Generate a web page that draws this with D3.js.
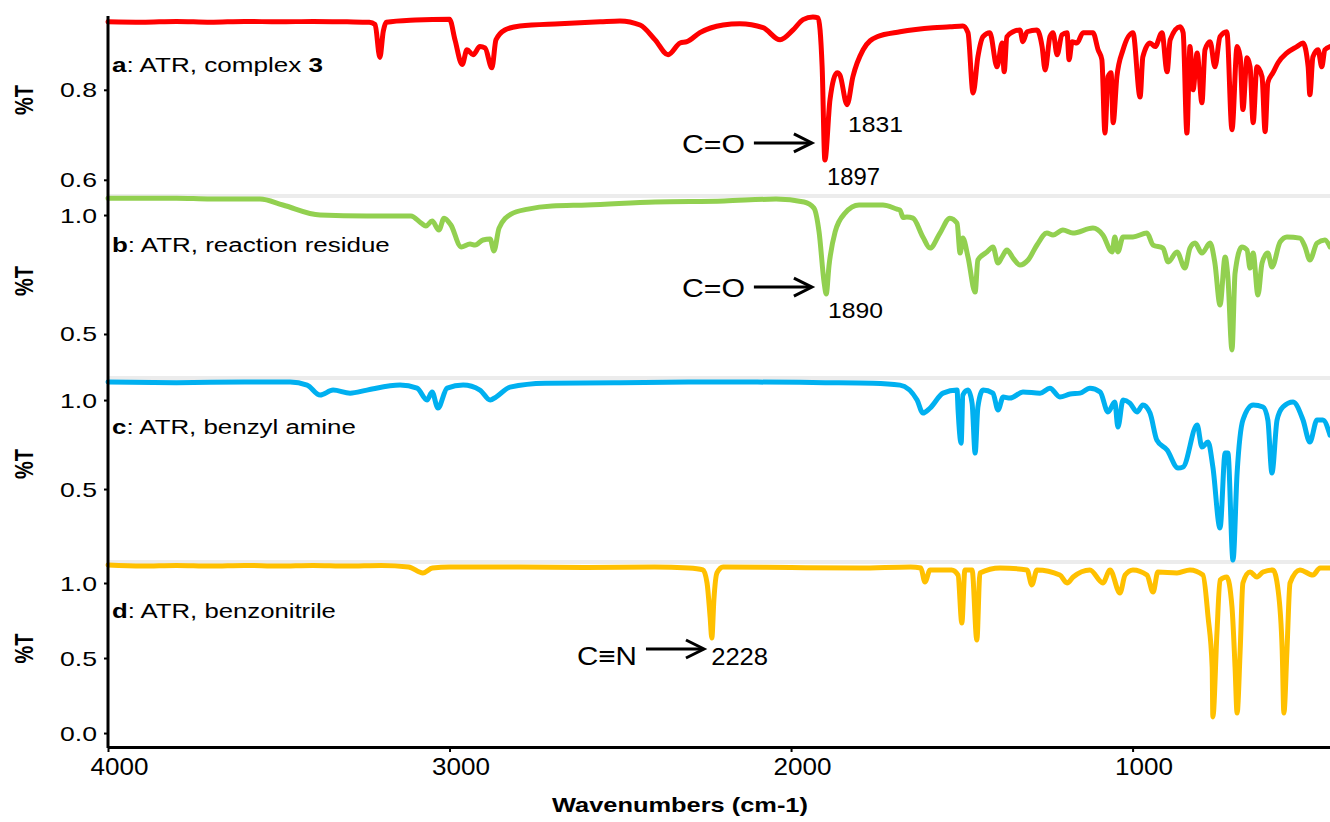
<!DOCTYPE html>
<html>
<head>
<meta charset="utf-8">
<script src="https://cdn.jsdelivr.net/npm/d3@7"></script>
<style>
  body { margin: 0; background: #fff; }
  text { font-family: "Liberation Sans", Arial, Helvetica, sans-serif; fill: #000; }
</style>
</head>
<body>
<div id="chart"></div>
<script>
// spectra: [wavenumber (cm-1), %T]
const spectrumA = [[4000,0.951],[3900,0.950],[3800,0.952],[3700,0.950],[3600,0.952],[3500,0.951],[3400,0.952],[3300,0.951],[3235,0.950],[3218,0.945],[3204,0.872],[3194,0.930],[3185,0.950],[3100,0.955],[3000,0.957],[2984,0.911],[2963,0.856],[2949,0.889],[2931,0.878],[2911,0.896],[2896,0.893],[2876,0.849],[2864,0.911],[2838,0.933],[2794,0.942],[2677,0.947],[2559,0.951],[2501,0.953],[2442,0.944],[2398,0.911],[2360,0.878],[2325,0.904],[2305,0.907],[2267,0.927],[2199,0.944],[2150,0.947],[2082,0.938],[2032,0.911],[1994,0.933],[1965,0.956],[1936,0.962],[1921,0.960],[1909,0.851],[1901,0.644],[1886,0.778],[1865,0.838],[1857,0.833],[1836,0.767],[1819,0.829],[1789,0.889],[1748,0.918],[1681,0.929],[1584,0.938],[1535,0.940],[1497,0.942],[1482,0.927],[1467,0.793],[1453,0.873],[1438,0.918],[1418,0.927],[1397,0.851],[1382,0.904],[1376,0.840],[1368,0.918],[1350,0.929],[1330,0.933],[1321,0.907],[1309,0.929],[1280,0.933],[1265,0.896],[1256,0.844],[1242,0.918],[1233,0.927],[1221,0.878],[1207,0.922],[1192,0.927],[1186,0.867],[1177,0.907],[1163,0.904],[1145,0.927],[1116,0.927],[1101,0.889],[1090,0.867],[1081,0.704],[1072,0.829],[1063,0.838],[1057,0.727],[1046,0.829],[1028,0.889],[999,0.927],[978,0.784],[970,0.873],[949,0.904],[934,0.896],[914,0.927],[899,0.840],[890,0.911],[861,0.940],[852,0.927],[841,0.704],[832,0.896],[823,0.800],[811,0.882],[797,0.771],[788,0.889],[773,0.907],[759,0.851],[744,0.918],[724,0.929],[709,0.711],[694,0.896],[685,0.873],[677,0.756],[665,0.871],[656,0.851],[647,0.727],[636,0.851],[621,0.829],[612,0.707],[604,0.816],[589,0.838],[574,0.860],[548,0.882],[519,0.896],[501,0.904],[486,0.851],[481,0.789],[472,0.873],[457,0.889],[446,0.851],[437,0.889],[422,0.896]];

const spectrumB = [[4000,1.071],[3800,1.071],[3700,1.067],[3555,1.067],[3488,1.042],[3379,1.000],[3242,0.996],[3113,0.996],[3083,0.966],[3069,0.954],[3051,0.975],[3031,0.937],[3016,0.987],[2996,0.958],[2966,0.866],[2940,0.878],[2925,0.874],[2902,0.895],[2881,0.899],[2870,0.849],[2855,0.945],[2820,1.004],[2770,1.025],[2700,1.038],[2597,1.042],[2398,1.055],[2196,1.059],[2044,1.067],[1962,1.055],[1933,1.029],[1918,0.929],[1903,0.714],[1897,0.668],[1889,0.786],[1871,0.929],[1842,1.008],[1801,1.042],[1731,1.042],[1690,1.025],[1681,1.021],[1672,0.990],[1661,0.992],[1643,0.987],[1614,0.908],[1593,0.861],[1564,0.924],[1535,0.987],[1514,0.966],[1505,0.840],[1497,0.903],[1482,0.824],[1461,0.676],[1453,0.811],[1426,0.845],[1409,0.866],[1394,0.798],[1382,0.824],[1368,0.853],[1350,0.819],[1330,0.790],[1306,0.811],[1280,0.874],[1251,0.924],[1233,0.916],[1204,0.937],[1175,0.924],[1116,0.945],[1087,0.916],[1060,0.845],[1052,0.908],[1043,0.845],[1028,0.908],[999,0.908],[958,0.924],[940,0.874],[911,0.861],[896,0.803],[870,0.845],[847,0.777],[832,0.861],[817,0.882],[797,0.840],[773,0.882],[759,0.798],[744,0.622],[729,0.824],[721,0.739],[709,0.433],[700,0.756],[680,0.866],[665,0.853],[656,0.777],[647,0.840],[633,0.664],[621,0.798],[604,0.840],[592,0.782],[568,0.887],[548,0.908],[510,0.903],[495,0.866],[481,0.811],[460,0.882],[437,0.895],[422,0.866]];

const spectrumC = [[4000,1.101],[3800,1.098],[3600,1.101],[3467,1.101],[3417,1.084],[3379,1.028],[3341,1.056],[3291,1.039],[3242,1.056],[3145,1.084],[3095,1.067],[3066,1.000],[3051,1.045],[3034,0.955],[3007,1.067],[2960,1.084],[2911,1.056],[2881,1.000],[2864,1.017],[2823,1.073],[2720,1.095],[2500,1.098],[2300,1.101],[2100,1.101],[1900,1.098],[1760,1.095],[1681,1.084],[1631,1.000],[1614,0.927],[1593,0.955],[1555,1.039],[1514,1.056],[1511,0.944],[1502,0.758],[1497,1.028],[1482,1.056],[1470,0.983],[1461,0.702],[1453,0.961],[1438,1.056],[1409,1.039],[1394,0.944],[1379,1.017],[1359,1.011],[1321,1.045],[1271,1.039],[1242,1.067],[1213,1.017],[1183,1.034],[1154,1.039],[1125,1.067],[1095,1.045],[1072,0.933],[1052,0.989],[1043,0.848],[1028,1.000],[1008,0.983],[987,0.933],[970,0.972],[949,0.927],[929,0.775],[899,0.719],[867,0.618],[852,0.624],[811,0.860],[797,0.736],[779,0.764],[765,0.624],[744,0.281],[729,0.702],[721,0.702],[706,0.101],[694,0.590],[677,0.888],[647,0.972],[618,0.961],[604,0.888],[592,0.590],[577,0.888],[560,0.961],[530,0.989],[501,0.888],[481,0.764],[460,0.888],[443,0.888],[422,0.803]];

const spectrumD = [[4000,1.120],[3900,1.113],[3800,1.117],[3700,1.113],[3600,1.117],[3500,1.113],[3400,1.117],[3300,1.113],[3200,1.117],[3120,1.107],[3078,1.067],[3050,1.100],[3000,1.107],[2800,1.107],[2600,1.103],[2400,1.107],[2300,1.100],[2258,1.087],[2246,1.000],[2237,0.773],[2232,0.633],[2226,0.887],[2217,1.067],[2199,1.107],[2000,1.103],[1800,1.100],[1650,1.107],[1620,1.100],[1608,1.007],[1593,1.087],[1530,1.087],[1511,1.053],[1500,0.733],[1491,1.087],[1470,1.087],[1456,0.620],[1447,1.067],[1388,1.100],[1309,1.087],[1295,0.987],[1280,1.087],[1213,1.053],[1192,1.000],[1174,1.040],[1125,1.087],[1087,1.000],[1066,1.087],[1037,0.933],[1022,1.053],[999,1.087],[958,1.053],[940,0.940],[926,1.073],[870,1.067],[832,1.087],[794,1.053],[779,0.773],[767,0.440],[765,0.107],[753,0.667],[744,1.020],[724,1.040],[709,0.840],[700,0.440],[694,0.133],[685,0.553],[677,1.000],[656,1.073],[636,1.040],[618,1.073],[589,1.087],[574,0.953],[562,0.553],[557,0.133],[548,0.553],[539,1.000],[510,1.087],[472,1.053],[451,1.100],[422,1.100]];

// y ranges shown in each panel and their tick labels
const domainA = [0.564, 0.964], ticksA = [0.6, 0.8];
const domainB = [0.315, 1.080], ticksB = [0.5, 1.0];
const domainC = [0.090, 1.124], ticksC = [0.5, 1.0];
const domainD = [-0.093, 1.140], ticksD = [0.0, 0.5, 1.0];
const xDomain = [4000, 422], xTicks = [4000, 3000, 2000, 1000];

const panelNames = ["a", "b", "c", "d"];
const panelTexts = [": ATR, complex ", ": ATR, reaction residue", ": ATR, benzyl amine", ": ATR, benzonitrile"];

const width = 1330, height = 822;
const left = 108, right = 1330;

const svg = d3.select("#chart").append("svg")
    .attr("width", width)
    .attr("height", height);

const x = d3.scaleLinear().domain(xDomain).range([left, right]);

// stretch a text element horizontally to a measured width
function fit(t, w) {
    const k = w / t.node().getComputedTextLength();
    t.attr("transform", `scale(${k},1)`);
    return k;
}

const panels = [
    { data: spectrumA, domain: domainA, ticks: ticksA, color: "#ff0000", top: 16, bottom: 196, labelW: 211 },
    { data: spectrumB, domain: domainB, ticks: ticksB, color: "#92d050", top: 196, bottom: 378, labelW: 278 },
    { data: spectrumC, domain: domainC, ticks: ticksC, color: "#00b0f0", top: 378, bottom: 562, labelW: 244 },
    { data: spectrumD, domain: domainD, ticks: ticksD, color: "#ffc000", top: 562, bottom: 747, labelW: 224 }
];

// light grey separators between panels
panels.slice(1).forEach(p => {
    svg.append("line")
        .attr("x1", left).attr("x2", right)
        .attr("y1", p.top).attr("y2", p.top)
        .attr("stroke", "#ececec").attr("stroke-width", 4);
});

panels.forEach((p, i) => {
    p.y = d3.scaleLinear().domain(p.domain).range([p.bottom, p.top]);

    // y axis ticks and labels
    const ax = svg.append("g")
        .attr("transform", `translate(${left},0)`)
        .call(d3.axisLeft(p.y).tickValues(p.ticks).tickSize(4).tickSizeOuter(0).tickFormat(d3.format(".1f")));
    ax.select(".domain").remove();
    ax.selectAll(".tick line").attr("stroke", "#000").attr("stroke-width", 2);
    ax.selectAll(".tick text")
        .style("font-size", "20px")
        .attr("fill", "#000")
        .each(function () {
            const t = d3.select(this);
            const k = fit(t, 37);
            t.attr("x", -11 / k).attr("dy", "0.35em");
        });

    // %T title
    svg.append("text")
        .attr("transform", `translate(33,${(p.top + p.bottom) / 2 - 6}) scale(1.3,1) rotate(-90)`)
        .attr("text-anchor", "middle")
        .style("font-size", "20px")
        .style("font-weight", "bold")
        .text("%T");

    // spectrum
    const line = d3.line().x(d => x(d[0])).y(d => p.y(d[1])).curve(d3.curveMonotoneX);
    svg.append("path")
        .datum(p.data)
        .attr("d", line)
        .attr("fill", "none")
        .attr("stroke", p.color)
        .attr("stroke-width", 5)
        .attr("stroke-linejoin", "round")
        .attr("stroke-linecap", "round");

    // panel label
    const lg = svg.append("g").attr("transform", `translate(112,${p.top + 56})`);
    const lt = lg.append("text").style("font-size", "20px");
    lt.append("tspan").style("font-weight", "bold").text(panelNames[i]);
    lt.append("tspan").text(panelTexts[i]);
    if (i === 0) lt.append("tspan").style("font-weight", "bold").text("3");
    fit(lt, p.labelW);
});

// main axis lines
svg.append("line")
    .attr("x1", left).attr("x2", left)
    .attr("y1", 16).attr("y2", 748)
    .attr("stroke", "#000").attr("stroke-width", 3);

const xa = svg.append("g")
    .attr("transform", `translate(0,747)`)
    .call(d3.axisBottom(x).tickValues(xTicks).tickSize(5).tickSizeOuter(0).tickFormat(d3.format("d")));
xa.select(".domain").attr("stroke", "#000").attr("stroke-width", 3);
xa.selectAll(".tick line").attr("stroke", "#000").attr("stroke-width", 2);
xa.selectAll(".tick text")
    .style("font-size", "24px")
    .attr("fill", "#000")
    .each(function () {
        const t = d3.select(this);
        const k = fit(t, 58);
        t.attr("x", 11 / k).attr("y", 28).attr("dy", null);
    });

const xt = svg.append("g").attr("transform", "translate(680,812)")
    .append("text")
    .attr("text-anchor", "middle")
    .style("font-size", "21px")
    .style("font-weight", "bold")
    .text("Wavenumbers (cm-1)");
fit(xt, 256);

// annotations: arrow tip and peak labels placed in data units
const arrowNotes = [
    { panel: 0, text: "C=O", w: 1939, t: 0.682, dy: 10, textW: 63 },
    { panel: 1, text: "C=O", w: 1939, t: 0.697, dy: 10, textW: 63 },
    { panel: 3, text: "C\u2261N", w: 2255, t: 0.560, dy: 16, textW: 60 }
];
const peakNotes = [
    { panel: 0, text: "1897", w: 1895, t: 0.589, textW: 53 },
    { panel: 0, text: "1831", w: 1833, t: 0.707, textW: 55 },
    { panel: 1, text: "1890", w: 1892, t: 0.567, textW: 55 },
    { panel: 3, text: "2228", w: 2234, t: 0.453, textW: 57 }
];

arrowNotes.forEach(a => {
    const px = x(a.w), py = panels[a.panel].y(a.t);
    const g = svg.append("g").attr("transform", `translate(${px},${py})`);
    g.append("line").attr("x1", -58).attr("x2", -1).attr("y1", 0).attr("y2", 0)
        .attr("stroke", "#000").attr("stroke-width", 3);
    g.append("path").attr("d", "M-18,-9L0,0L-18,9")
        .attr("fill", "none").attr("stroke", "#000").attr("stroke-width", 3)
        .attr("stroke-linejoin", "miter");
    const tg = g.append("g").attr("transform", `translate(-67,${a.dy})`);
    const t = tg.append("text").attr("text-anchor", "end").style("font-size", "26px").text(a.text);
    fit(t, a.textW);
});

peakNotes.forEach(n => {
    const g = svg.append("g").attr("transform", `translate(${x(n.w)},${panels[n.panel].y(n.t)})`);
    const t = g.append("text").style("font-size", "23px").text(n.text);
    fit(t, n.textW);
});
</script>
</body>
</html>
